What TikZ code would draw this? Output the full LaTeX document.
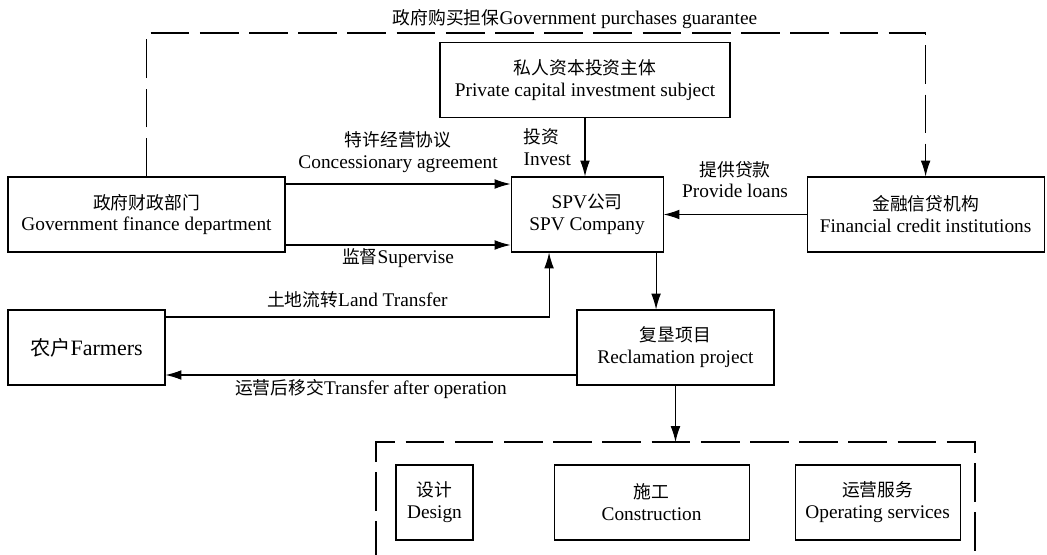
\documentclass[tikz,border=0pt]{standalone}
\usepackage{fontspec}
\setmainfont{Liberation Serif}
\newfontfamily\cjk[Scale=0.92]{Noto Sans CJK SC}
\newcommand{\zh}[1]{{\cjk #1}}
\usetikzlibrary{arrows.meta, positioning, calc}
\tikzset{box/.style={draw, line width=0.6pt, align=center, minimum height=15mm, inner sep=2pt},
    arr/.style={-{Latex[length=9pt,width=5.5pt]}, line width=0.6pt},
    guarantee/.style={arr, dash pattern=on 22pt off 6pt},
    grpline/.style={line width=0.6pt, dash pattern=on 22pt off 6pt},
    lbl/.style={align=center, inner sep=2pt}}

\begin{document}
\begin{tikzpicture}[x=0.2mm, y=-0.2mm, font=\fontsize{11}{12.5}\selectfont]
\useasboundingbox (0,0) rectangle (1047,555);

% main row
\node[box, minimum width=55.4mm] (gov) at (146.5,214.5) {\zh{政府财政部门}\\Government finance department};
\node[box, minimum width=30.4mm, right=45mm of gov] (spv) {SPV\zh{公司}\\SPV Company};
\node[box, minimum width=47.4mm, right=28.6mm of spv] (fin) {\zh{金融信贷机构}\\Financial credit institutions};
\node[box, minimum width=58mm] (priv) at (585,80) {\zh{私人资本投资主体}\\Private capital investment subject};

% second row
\node[box, minimum width=31.4mm, font=\fontsize{12.5}{14}\selectfont] (farm) at (86.5,347.5) {\zh{农户}Farmers};
\node[box, minimum width=39.4mm] (recl) at (675.5,347.5) {\zh{复垦项目}\\Reclamation project};

% project stages
\coordinate (grp) at (675.5,442);
\draw[grpline] (376,560) |- (grp) -| (975,560);
\node[box, minimum width=15.4mm] (design) at (434.5,502.5) {\zh{设计}\\Design};
\node[box, minimum width=39mm, right=16mm of design] (constr) {\zh{施工}\\Construction};
\node[box, minimum width=33mm, right=9mm of constr] (oper) {\zh{运营服务}\\Operating services};

% connectors
\coordinate (topc) at (575,33);
\draw[guarantee] (gov.north) |- (topc) node[lbl, above] (guarlbl) {\zh{政府购买担保}Government purchases guarantee} -| (fin.north);
\draw[arr] ([yshift=6.1mm]gov.east) -- node[lbl, above=4pt] {\zh{特许经营协议}\\Concessionary agreement} ([yshift=6.1mm]spv.west);
\draw[arr] ([yshift=-6.1mm]gov.east) -- node[lbl, below] {\zh{监督}Supervise} ([yshift=-6.1mm]spv.west);
\draw[arr] (priv.south) -- node[lbl, left, align=left, xshift=-2mm] {\zh{投资}\\Invest} (priv.south |- spv.north);
\draw[arr] (fin) -- node[lbl, above=7pt] {\zh{提供贷款}\\Provide loans} (spv);
\draw[arr] ([yshift=6.1mm]farm.east) -| node[lbl, above=3pt, pos=0.25] {\zh{土地流转}Land Transfer} ([xshift=-7.6mm]spv.south);
\draw[arr] ([xshift=13.8mm]spv.south) -- ([xshift=13.8mm]spv.south |- recl.north);
\draw[arr] ([yshift=-5.5mm]recl.west) -- node[lbl, below] {\zh{运营后移交}Transfer after operation} ([yshift=-5.5mm]recl.west -| farm.east);
\draw[arr] (recl.south) -- (grp);
\end{tikzpicture}
\end{document}
